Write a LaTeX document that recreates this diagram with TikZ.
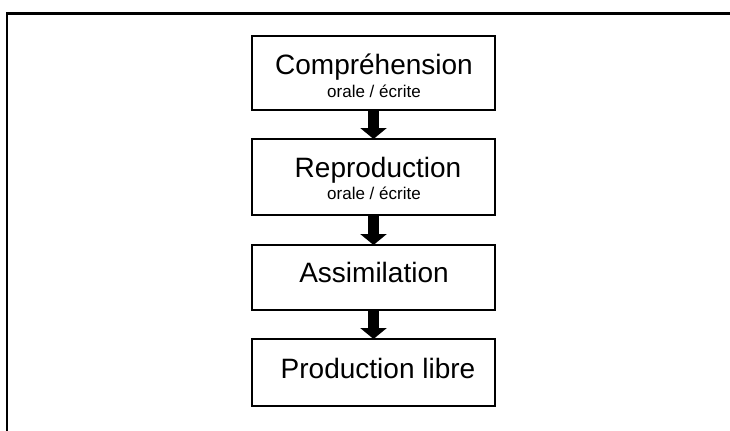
\documentclass[tikz,border=0pt]{standalone}
\usepackage{fontspec}
\setmainfont{Liberation Sans}
\usetikzlibrary{arrows.meta}
\tikzset{
  stage/.style={draw=black, line width=2bp, fill=white, rectangle, minimum width=243bp, outer sep=0pt, inner sep=0pt},
  maintext/.style={anchor=base, inner sep=0pt, font=\fontsize{28bp}{33bp}\selectfont},
  subtext/.style={anchor=base, inner sep=0pt, font=\fontsize{17bp}{20bp}\selectfont},
  flow/.style={line width=11bp, -{Triangle[width=26bp, length=11bp]}},
  frameline/.style={line width=2.5bp, line cap=rect}
}
\begin{document}
\begin{tikzpicture}[x=1bp, y=-1bp]
\useasboundingbox (0,0) rectangle (730,430);
\draw[frameline] (7,431) -- (7,13.5) -- (731,13.5);
\node[stage, minimum height=74bp] (b1) at (373.5,73) {};
\node[stage, minimum height=76bp] (b2) at (373.5,177) {};
\node[stage, minimum height=65bp] (b3) at (373.5,277.5) {};
\node[stage, minimum height=67bp] (b4) at (373.5,372.5) {};
\node[maintext] (t1) at (374,74.5) {Compréhension};
\node[subtext] (s1) at (374,97.5) {orale / écrite};
\node[maintext] (t2) at (378,177.5) {Reproduction};
\node[subtext] (s2) at (374,199.5) {orale / écrite};
\node[maintext] (t3) at (374,282.5) {Assimilation};
\node[maintext] (t4) at (378,378.5) {Production libre};
\draw[flow] (b1.south) -- (b2.north);
\draw[flow] (b2.south) -- (b3.north);
\draw[flow] (b3.south) -- (b4.north);
\end{tikzpicture}
\end{document}
